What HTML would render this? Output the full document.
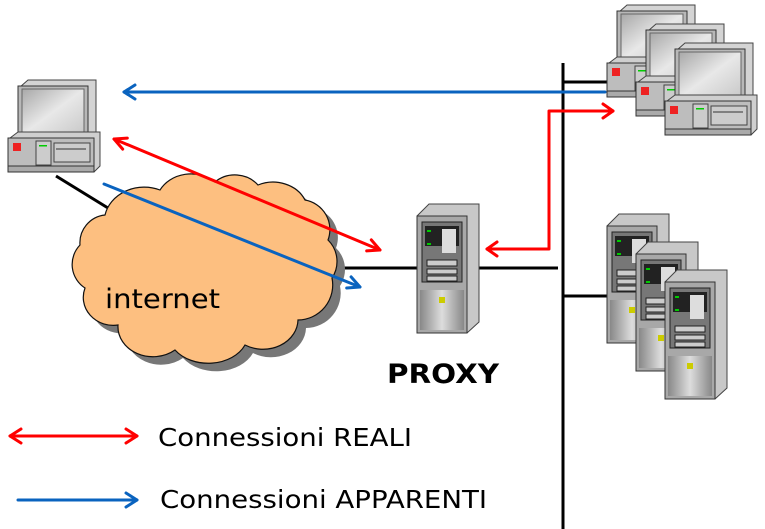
<!DOCTYPE html>
<html><head><meta charset="utf-8"><style>html,body{margin:0;padding:0;background:#fff;}svg{display:block}</style></head>
<body>
<svg width="765" height="529" viewBox="0 0 765 529" xmlns="http://www.w3.org/2000/svg">
<defs>
<linearGradient id="scr" x1="0" y1="0" x2="1" y2="1"><stop offset="0" stop-color="#a8a8a8"/><stop offset="0.5" stop-color="#e8e8e8"/><stop offset="1" stop-color="#c8c8c8"/></linearGradient>
<linearGradient id="srv" x1="0" y1="0" x2="1" y2="0"><stop offset="0" stop-color="#888"/><stop offset="0.5" stop-color="#ddd"/><stop offset="1" stop-color="#888"/></linearGradient>
<g id="pc">
<polygon points="12,7 20,0 88,0 88,56 80,62 12,62" fill="#d4d4d4" stroke="#444" stroke-width="1"/>
<rect x="10" y="6" width="70" height="56" fill="#b8b8b8" stroke="#333"/>
<rect x="14" y="9" width="62" height="46" fill="url(#scr)" stroke="#666"/>
<rect x="68" y="57" width="5" height="2" fill="#0c0"/>
<polygon points="2,58 10,52 92,52 92,86 86,92 2,92" fill="#cfcfcf" stroke="#444"/>
<rect x="0" y="58" width="86" height="34" fill="#bdbdbd" stroke="#333"/>
<rect x="5" y="63" width="8" height="8" fill="#e22"/>
<rect x="28" y="61" width="15" height="24" fill="#ccc" stroke="#444"/>
<rect x="31" y="65" width="8" height="1.5" fill="#0c0"/>
<rect x="46" y="63" width="36" height="19" fill="#ccc" stroke="#444"/>
<line x1="48" y1="69" x2="78" y2="69" stroke="#333"/>
<rect x="0" y="86" width="86" height="6" fill="#aaa" stroke="#333"/>
</g>
<g id="sv">
<polygon points="0,14 12,2 62,2 62,120 50,131 0,131" fill="#c8c8c8" stroke="#444"/>
<rect x="0" y="14" width="50" height="117" fill="#a8a8a8" stroke="#333"/>
<rect x="5" y="20" width="40" height="60" fill="#777" stroke="#222"/>
<rect x="8" y="24" width="34" height="20" fill="#222"/>
<rect x="25" y="27" width="14" height="24" fill="#ddd"/>
<rect x="10" y="28" width="4" height="2" fill="#0c0"/><rect x="10" y="41" width="4" height="2" fill="#0c0"/>
<rect x="10" y="58" width="30" height="6" fill="#ccc" stroke="#222"/>
<rect x="10" y="67" width="30" height="5" fill="#ccc" stroke="#222"/>
<rect x="10" y="74" width="30" height="5" fill="#ccc" stroke="#222"/>
<rect x="3" y="88" width="44" height="40" fill="url(#srv)"/>
<rect x="22" y="95" width="6" height="6" fill="#cc0"/>
</g>
</defs>

<line x1="563" y1="63" x2="563" y2="529" stroke="#000" stroke-width="3"/>
<line x1="563" y1="82" x2="610" y2="82" stroke="#000" stroke-width="3"/>
<line x1="563" y1="296" x2="610" y2="296" stroke="#000" stroke-width="3"/>
<line x1="330" y1="268" x2="420" y2="268" stroke="#000" stroke-width="3"/>
<line x1="476" y1="268" x2="558" y2="268" stroke="#000" stroke-width="3"/>
<line x1="56" y1="176" x2="108" y2="208" stroke="#000" stroke-width="3"/>

<g transform="translate(8,8)"><path d="M105,215 A40,35 0 0 1 160,190 A35,30 0 0 1 215,182 A30,28 0 0 1 258,185 A35,30 0 0 1 305,200 A30,30 0 0 1 328,240 A30,30 0 0 1 332,278 A35,35 0 0 1 298,320 A35,30 0 0 1 245,345 A40,30 0 0 1 175,350 A35,30 0 0 1 118,325 A30,28 0 0 1 85,288 A28,28 0 0 1 80,245 A28,28 0 0 1 105,215 Z" fill="#777"/></g>
<path d="M105,215 A40,35 0 0 1 160,190 A35,30 0 0 1 215,182 A30,28 0 0 1 258,185 A35,30 0 0 1 305,200 A30,30 0 0 1 328,240 A30,30 0 0 1 332,278 A35,35 0 0 1 298,320 A35,30 0 0 1 245,345 A40,30 0 0 1 175,350 A35,30 0 0 1 118,325 A30,28 0 0 1 85,288 A28,28 0 0 1 80,245 A28,28 0 0 1 105,215 Z" fill="#FDBF80" stroke="#111" stroke-width="1.2"/>
<text x="105" y="308" font-family="DejaVu Sans, Liberation Sans, sans-serif" font-size="27" textLength="115" lengthAdjust="spacingAndGlyphs">internet</text>

<use href="#pc" x="8" y="80"/>
<use href="#pc" x="607" y="5"/>
<use href="#pc" x="636" y="24"/>
<use href="#pc" x="665" y="43"/>
<use href="#sv" x="417" y="202"/>
<use href="#sv" x="607" y="212"/>
<use href="#sv" x="636" y="240"/>
<use href="#sv" x="665" y="268"/>

<text x="387" y="383" font-family="DejaVu Sans, Liberation Sans, sans-serif" font-weight="bold" font-size="27" textLength="112" lengthAdjust="spacingAndGlyphs">PROXY</text>

<g fill="none" stroke-width="3" stroke-linecap="round" stroke-linejoin="round">
<line x1="605" y1="92" x2="124" y2="92" stroke="#0A63BF"/>
<polyline points="135,85 124,92 135,99" stroke="#0A63BF"/>
<line x1="114" y1="139" x2="380" y2="250" stroke="#FF0000"/>
<polyline points="122.7,149.1 114,139 127.3,138.1" stroke="#FF0000"/>
<polyline points="366.7,250.9 380,250 371.3,239.9" stroke="#FF0000"/>
<line x1="104" y1="184" x2="360" y2="287" stroke="#0A63BF"/>
<polyline points="346.7,288 360,287 351.1,276.9" stroke="#0A63BF"/>
<polyline points="487,249 549,249 549,111 613,111" stroke="#FF0000"/>
<polyline points="497,242 487,249 497,256" stroke="#FF0000"/>
<polyline points="603,104 613,111 603,118" stroke="#FF0000"/>
<line x1="10" y1="436" x2="137" y2="436" stroke="#FF0000"/>
<polyline points="21,429 10,436 21,443" stroke="#FF0000"/>
<polyline points="126,429 137,436 126,443" stroke="#FF0000"/>
<line x1="18" y1="500" x2="137" y2="500" stroke="#0A63BF"/>
<polyline points="126,493 137,500 126,507" stroke="#0A63BF"/>
</g>

<text x="158" y="446" font-family="DejaVu Sans, Liberation Sans, sans-serif" font-size="25" textLength="254" lengthAdjust="spacingAndGlyphs">Connessioni REALI</text>
<text x="160" y="508" font-family="DejaVu Sans, Liberation Sans, sans-serif" font-size="25" textLength="327" lengthAdjust="spacingAndGlyphs">Connessioni APPARENTI</text>
</svg>
</body></html>
